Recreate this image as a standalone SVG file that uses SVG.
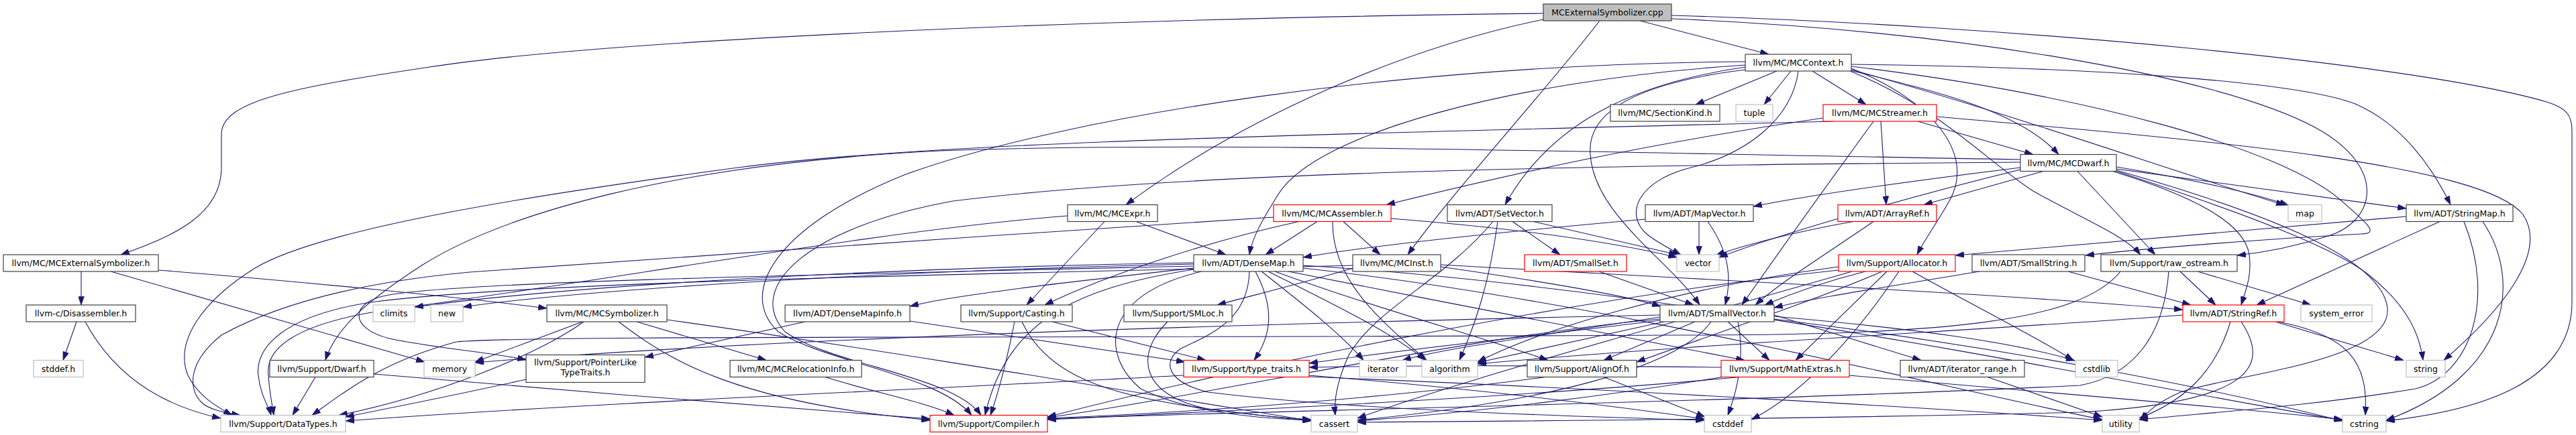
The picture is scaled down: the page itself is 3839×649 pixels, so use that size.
<svg xmlns="http://www.w3.org/2000/svg" width="3839" height="649" viewBox="0 0 3839 649">
<style>
.n rect{fill:#fff;stroke:#404040;stroke-width:1.2}
.r rect{fill:#fff;stroke:#ff0000;stroke-width:1.2}
.g rect{fill:#fff;stroke:#bfbfbf;stroke-width:1.2}
.c rect{fill:#bfbfbf;stroke:#404040;stroke-width:1.2}
text{font-family:"DejaVu Sans",sans-serif;font-size:12.5px;text-anchor:middle;fill:#000}
#edges path{fill:none;stroke:#191970;stroke-width:1.1;marker-end:url(#a)}
</style>
<defs>
<marker id="a" viewBox="0 0 10 7" refX="10" refY="3.5" markerWidth="13" markerHeight="9" markerUnits="userSpaceOnUse" orient="auto"><path d="M0,0 L10,3.5 L0,7 z" fill="#191970" stroke="#191970" stroke-width="0.5"/></marker>
</defs>
<rect width="3839" height="649" fill="#fff"/>
<g id="edges">
<path d="M2300,20 C1600,28 900,60 640,100 C440,130 330,150 330,200 L330,250 C330,320 260,352 180,380"/>
<path d="M2444,31 L2636,81"/>
<path d="M2300,29 C2100,70 1860,170 1678,305.5"/>
<path d="M2384,31 C2300,140 2170,280 2098,380"/>
<path d="M2491,28 C2900,45 3300,110 3450,190 C3560,250 3540,330 3470,352 C3420,368 3380,376 3334,381"/>
<path d="M2491,23 C3000,38 3600,95 3795,152 C3828,162 3833,175 3833,195 L3833,450 C3833,570 3700,612 3556,628"/>
<path d="M2648,106 L2527,156"/>
<path d="M2669,106 L2629,156"/>
<path d="M2701,106 L2781,156"/>
<path d="M2757,105 C2880,135 3010,165 3068,230.5"/>
<path d="M2601,97 C2250,120 1960,200 1905,290 C1880,330 1866,355 1862,380"/>
<path d="M2601,100 C2430,125 2310,185 2243,305.5"/>
<path d="M2601,104 C2430,125 2365,170 2370,230 C2375,320 2490,390 2533,455"/>
<path d="M2759,102 C2880,150 2945,230 2905,300 C2885,335 2868,358 2857,380"/>
<path d="M2759,99 C3100,140 3400,220 3490,300 C3530,335 3545,348 3520,349 C3400,355 3200,370 3108,381"/>
<path d="M2759,96 C3100,100 3420,120 3510,155 C3580,185 3625,250 3652,305.5"/>
<path d="M2759,104 C3000,170 3250,260 3405,306"/>
<path d="M2757,106 C2890,160 2960,240 3030,285 C3100,325 3165,350 3190,380"/>
<path d="M2680,106 C2670,180 2600,230 2520,250 C2440,270 2420,320 2455,350 C2475,365 2490,372 2505,380"/>
<path d="M2601,92 C2100,95 1600,170 1350,260 C1150,340 1100,440 1160,495 C1230,540 1400,560 1448,619.5"/>
<path d="M2858,181 L3030,230.5"/>
<path d="M2803,181 L2811,305.5"/>
<path d="M2717,176 C2450,215 2250,260 2066,305.5"/>
<path d="M2792,181 C2720,280 2645,385 2596,455"/>
<path d="M2733,181 C2000,200 1400,210 1100,250 C800,290 480,340 380,400 C300,450 260,510 280,560 C295,590 320,605 346,619.5"/>
<path d="M2886,174 C3300,210 3700,245 3760,320 C3800,380 3720,470 3642,537.5"/>
<path d="M3045,255.5 L2867,305.5"/>
<path d="M3096,255.5 L3212,380"/>
<path d="M3011,250 C2850,270 2700,290 2613,308"/>
<path d="M3011,238 C2400,228 1800,210 1400,225 C1000,245 750,320 630,395 C545,450 500,490 485,537.5"/>
<path d="M3154,252 L3586,311"/>
<path d="M3154,249 C3250,265 3350,285 3410,306"/>
<path d="M3150,256 C3260,290 3345,330 3352,380 C3356,410 3348,430 3340,455"/>
<path d="M3011,253 C2840,295 2650,350 2562,384"/>
<path d="M3154,255.5 C3350,320 3480,370 3530,410 C3580,450 3605,490 3611,537.5"/>
<path d="M3154,254 C3350,310 3550,380 3558,460 C3565,540 3320,560 3250,585 C3215,600 3200,615 3190,627"/>
<path d="M3011,242 C2500,246 1800,252 1420,300 C1200,340 1110,430 1170,495 C1240,545 1420,560 1462,619.5"/>
<path d="M1693,330.5 L1827,380"/>
<path d="M1646,330.5 L1530,455"/>
<path d="M1591,322 C1300,345 900,420 560,465 C440,485 395,520 400,560 C402,590 406,605 408,619.5"/>
<path d="M1963,330.5 L1886,380"/>
<path d="M1936,330.5 C1800,360 1650,410 1557,455"/>
<path d="M2002,330.5 L2057,380"/>
<path d="M1986,330.5 C1985,420 2060,480 2126,537.5"/>
<path d="M2073,326 C2250,340 2400,360 2499,384"/>
<path d="M1898,324 C1500,350 900,390 700,406 C550,420 420,450 330,500 C280,540 280,580 300,600 C310,610 330,615 358,619.5"/>
<path d="M2254,330.5 L2325,380"/>
<path d="M2232,330.5 C2220,420 2200,480 2175,537.5"/>
<path d="M2225,330.5 C2150,420 2050,460 2010,530 C1992,570 1988,600 1990,619.5"/>
<path d="M2285,330.5 L2500,380"/>
<path d="M2532,330.5 L2532,380"/>
<path d="M2545,330.5 C2580,380 2580,420 2571,455"/>
<path d="M2452,327 C2250,345 2050,365 1942,384"/>
<path d="M2792,330.5 C2720,380 2655,420 2616,455"/>
<path d="M2762,330.5 C2680,345 2600,365 2557,381"/>
<path d="M2383,405 L2524,455"/>
<path d="M2780,405 C2720,420 2665,440 2630,455"/>
<path d="M2812,405 L2676,537.5"/>
<path d="M2805,405 C2700,450 2550,500 2439,540"/>
<path d="M2740,398 C2500,430 2300,490 2202,540"/>
<path d="M2760,405 C2500,480 2200,560 2023,624"/>
<path d="M2830,405 C2780,480 2700,580 2610,626"/>
<path d="M2850,405 C2930,450 3030,500 3090,537.5"/>
<path d="M2740,403 C2300,450 1800,560 1561,622"/>
<path d="M2950,405 C2800,430 2700,445 2644,459"/>
<path d="M3082,405 L3265,455"/>
<path d="M3249,405 L3302,455"/>
<path d="M3275,405 L3444,455"/>
<path d="M3232,405 C3225,500 3180,560 3100,575 C2600,600 1800,615 1561,625"/>
<path d="M3160,405 C3100,480 2900,500 2500,500 C1500,505 800,500 680,510 C570,540 520,580 465,619.5"/>
<path d="M3636,330.5 L3363,455"/>
<path d="M3586,323 L2914,381"/>
<path d="M3700,330.5 C3760,420 3740,560 3556,627"/>
<path d="M3672,330.5 C3720,450 3680,560 3600,580 C3450,605 3300,615 3188,626"/>
<path d="M3391,480 L3582,537.5"/>
<path d="M3395,480 C3500,500 3530,540 3525,619.5"/>
<path d="M3324,480 C3300,560 3250,600 3188,624"/>
<path d="M3340,480 C3380,540 3370,600 3100,615 C2700,625 2300,628 2023,630"/>
<path d="M3253,470 C3000,490 2500,515 2202,543"/>
<path d="M2526,480 L2390,537.5"/>
<path d="M2575,480 L2637,537.5"/>
<path d="M2474,478 C2300,500 2100,520 1951,542"/>
<path d="M2480,480 L2202,541"/>
<path d="M2474,473 C2300,500 2150,520 2090,537.5"/>
<path d="M2550,480 C2500,550 2300,600 2023,627"/>
<path d="M2590,480 C2600,530 2590,580 2575,619.5"/>
<path d="M2644,472 C2850,490 3000,510 3092,538"/>
<path d="M2644,476 C3000,520 3300,580 3491,628"/>
<path d="M2474,470 C2000,480 1200,500 708,541"/>
<path d="M2474,476 C2200,500 1800,590 1561,623"/>
<path d="M2644,470 L2863,537.5"/>
<path d="M2303,562.5 C2100,590 1800,615 1561,624"/>
<path d="M2390,562.5 L2541,622"/>
<path d="M2593,562.5 C2300,590 1900,610 1561,626"/>
<path d="M2570,562 C2400,590 2200,615 2023,628"/>
<path d="M2756,560 C3100,590 3350,610 3491,626"/>
<path d="M2565,548 C2300,545 2100,545 1951,548"/>
<path d="M1764,560 C1400,580 900,600 515,628"/>
<path d="M1951,562 C2400,580 2900,610 3133,627"/>
<path d="M1951,560 C2200,580 2400,605 2540,625"/>
<path d="M1512,480 C1500,540 1490,580 1476,619.5"/>
<path d="M1568,480 L1797,537.5"/>
<path d="M1523,480 C1560,560 1650,590 1800,610 C1880,620 1920,625 1954,628"/>
<path d="M1740,480 C1690,530 1700,590 1800,610 C1870,620 1920,624 1954,626"/>
<path d="M1200,480 L961,533"/>
<path d="M1356,479 L1766,540"/>
<path d="M868,480 L708,540"/>
<path d="M870,480 C800,530 650,590 505,619.5"/>
<path d="M922,480 C1000,540 1100,600 1386,627"/>
<path d="M949,480 L1142,537.5"/>
<path d="M994,477 C1300,520 1600,570 1954,628"/>
<path d="M1230,562.5 C1300,585 1380,600 1422,619.5"/>
<path d="M470,562.5 L436,619.5"/>
<path d="M557,558 C800,580 1200,610 1386,625"/>
<path d="M114,480 L94,537.5"/>
<path d="M127,480 C170,560 240,605 329,624"/>
<path d="M121,405 L121,455"/>
<path d="M236,403 C450,420 700,445 815,460"/>
<path d="M165,405 L633,540"/>
<path d="M784,566 C700,585 600,605 515,622"/>
<path d="M1779,400 C1600,420 1420,440 1356,457"/>
<path d="M1779,392 C1400,398 900,420 618,458"/>
<path d="M1779,394 C1400,402 900,428 690,458"/>
<path d="M1779,397 C1200,410 700,420 580,440 C520,450 520,490 580,505 C650,520 730,525 784,537"/>
<path d="M1779,402 C1600,430 1500,480 1468,619.5"/>
<path d="M1871,405 C1900,460 1895,500 1869,537.5"/>
<path d="M1791,405 C1640,440 1640,530 1700,580 C1780,620 1900,625 1954,627"/>
<path d="M1862,405 C1860,480 1800,500 1760,520 C1730,540 1740,570 1800,585 C2000,610 2300,620 2540,627"/>
<path d="M1880,405 C1950,460 2000,500 2032,537.5"/>
<path d="M1890,405 C2000,460 2080,500 2124,537.5"/>
<path d="M1900,405 C2050,460 2200,500 2307,537.5"/>
<path d="M1920,405 C2150,450 2400,500 2600,537.5"/>
<path d="M1942,400 C2400,450 2900,580 3133,626"/>
<path d="M1942,396 C2500,430 3100,560 3491,627"/>
<path d="M2016,400 C1950,420 1870,440 1814,455"/>
<path d="M2147,398 C2300,420 2420,440 2475,457"/>
<path d="M2147,395 C2600,420 3000,440 3253,462"/>
<path d="M2016,396 C1400,410 800,420 560,450 C420,470 380,520 385,560 C388,590 400,605 404,619.5"/>
<path d="M2962,562.5 L3133,622"/>
</g>
<g id="n_cpp" class="c"><rect x="2300" y="6" width="191" height="25"/><text x="2395.5" y="23">MCExternalSymbolizer.cpp</text></g>
<g id="n_MCContext" class="n"><rect x="2601" y="81" width="158" height="25"/><text x="2680" y="98">llvm/MC/MCContext.h</text></g>
<g id="n_SectionKind" class="n"><rect x="2400" y="156" width="163" height="25"/><text x="2481.5" y="173">llvm/MC/SectionKind.h</text></g>
<g id="n_tuple" class="g"><rect x="2587" y="156" width="55" height="25"/><text x="2614.5" y="173">tuple</text></g>
<g id="n_MCStreamer" class="r"><rect x="2717" y="156" width="169" height="25"/><text x="2801.5" y="173">llvm/MC/MCStreamer.h</text></g>
<g id="n_MCDwarf" class="n"><rect x="3011" y="230.5" width="143" height="25"/><text x="3082.5" y="247.5">llvm/MC/MCDwarf.h</text></g>
<g id="n_MCExpr" class="n"><rect x="1591" y="305.5" width="134" height="25"/><text x="1658" y="322.5">llvm/MC/MCExpr.h</text></g>
<g id="n_MCAssembler" class="r"><rect x="1898" y="305.5" width="175" height="25"/><text x="1985.5" y="322.5">llvm/MC/MCAssembler.h</text></g>
<g id="n_SetVector" class="n"><rect x="2157" y="305.5" width="156" height="25"/><text x="2235" y="322.5">llvm/ADT/SetVector.h</text></g>
<g id="n_MapVector" class="n"><rect x="2452" y="305.5" width="161" height="25"/><text x="2532.5" y="322.5">llvm/ADT/MapVector.h</text></g>
<g id="n_ArrayRef" class="r"><rect x="2739" y="305.5" width="147" height="25"/><text x="2812.5" y="322.5">llvm/ADT/ArrayRef.h</text></g>
<g id="n_map" class="g"><rect x="3410" y="305.5" width="50" height="25"/><text x="3435" y="322.5">map</text></g>
<g id="n_StringMap" class="n"><rect x="3586" y="305.5" width="159" height="25"/><text x="3665.5" y="322.5">llvm/ADT/StringMap.h</text></g>
<g id="n_MCExtSymH" class="n"><rect x="5" y="380" width="231" height="25"/><text x="120.5" y="397">llvm/MC/MCExternalSymbolizer.h</text></g>
<g id="n_DenseMap" class="n"><rect x="1779" y="380" width="163" height="25"/><text x="1860.5" y="397">llvm/ADT/DenseMap.h</text></g>
<g id="n_MCInst" class="n"><rect x="2016" y="380" width="131" height="25"/><text x="2081.5" y="397">llvm/MC/MCInst.h</text></g>
<g id="n_SmallSet" class="r"><rect x="2272" y="380" width="152" height="25"/><text x="2348" y="397">llvm/ADT/SmallSet.h</text></g>
<g id="n_vector" class="g"><rect x="2499" y="380" width="63" height="25"/><text x="2530.5" y="397">vector</text></g>
<g id="n_Allocator" class="r"><rect x="2740" y="380" width="174" height="25"/><text x="2827" y="397">llvm/Support/Allocator.h</text></g>
<g id="n_SmallString" class="n"><rect x="2939" y="380" width="168" height="25"/><text x="3023" y="397">llvm/ADT/SmallString.h</text></g>
<g id="n_raw_ostream" class="n"><rect x="3131" y="380" width="203" height="25"/><text x="3232.5" y="397">llvm/Support/raw_ostream.h</text></g>
<g id="n_Disassembler" class="n"><rect x="39" y="455" width="163" height="25"/><text x="120.5" y="472">llvm-c/Disassembler.h</text></g>
<g id="n_climits" class="g"><rect x="556" y="455" width="62" height="25"/><text x="587" y="472">climits</text></g>
<g id="n_new" class="g"><rect x="642" y="455" width="48" height="25"/><text x="666" y="472">new</text></g>
<g id="n_MCSymbolizer" class="n"><rect x="815" y="455" width="179" height="25"/><text x="904.5" y="472">llvm/MC/MCSymbolizer.h</text></g>
<g id="n_DenseMapInfo" class="n"><rect x="1170" y="455" width="186" height="25"/><text x="1263" y="472">llvm/ADT/DenseMapInfo.h</text></g>
<g id="n_Casting" class="n"><rect x="1432" y="455" width="166" height="25"/><text x="1515" y="472">llvm/Support/Casting.h</text></g>
<g id="n_SMLoc" class="n"><rect x="1675" y="455" width="161" height="25"/><text x="1755.5" y="472">llvm/Support/SMLoc.h</text></g>
<g id="n_SmallVector" class="n"><rect x="2474" y="455" width="170" height="25"/><text x="2559" y="472">llvm/ADT/SmallVector.h</text></g>
<g id="n_StringRef" class="r"><rect x="3253" y="455" width="151" height="25"/><text x="3328.5" y="472">llvm/ADT/StringRef.h</text></g>
<g id="n_system_error" class="g"><rect x="3429" y="455" width="106" height="25"/><text x="3482" y="472">system_error</text></g>
<g id="n_stddef" class="g"><rect x="50" y="537.5" width="74" height="25"/><text x="87" y="554.5">stddef.h</text></g>
<g id="n_Dwarf" class="n"><rect x="402" y="537.5" width="155" height="25"/><text x="479.5" y="554.5">llvm/Support/Dwarf.h</text></g>
<g id="n_memory" class="g"><rect x="632" y="537.5" width="76" height="25"/><text x="670" y="554.5">memory</text></g>
<g id="n_PointerLike" class="n"><rect x="784" y="529.5" width="177" height="41"/><text x="872.5" y="544.5">llvm/Support/PointerLike</text><text x="872.5" y="559.5">TypeTraits.h</text></g>
<g id="n_MCRelocationInfo" class="n"><rect x="1088" y="537.5" width="196" height="25"/><text x="1186" y="554.5">llvm/MC/MCRelocationInfo.h</text></g>
<g id="n_type_traits" class="r"><rect x="1764" y="537.5" width="187" height="25"/><text x="1857.5" y="554.5">llvm/Support/type_traits.h</text></g>
<g id="n_iterator" class="g"><rect x="2026" y="537.5" width="70" height="25"/><text x="2061" y="554.5">iterator</text></g>
<g id="n_algorithm" class="g"><rect x="2119" y="537.5" width="83" height="25"/><text x="2160.5" y="554.5">algorithm</text></g>
<g id="n_AlignOf" class="n"><rect x="2276" y="537.5" width="163" height="25"/><text x="2357.5" y="554.5">llvm/Support/AlignOf.h</text></g>
<g id="n_MathExtras" class="r"><rect x="2565" y="537.5" width="191" height="25"/><text x="2660.5" y="554.5">llvm/Support/MathExtras.h</text></g>
<g id="n_iterator_range" class="n"><rect x="2832" y="537.5" width="185" height="25"/><text x="2924.5" y="554.5">llvm/ADT/iterator_range.h</text></g>
<g id="n_cstdlib" class="g"><rect x="3093" y="537.5" width="63" height="25"/><text x="3124.5" y="554.5">cstdlib</text></g>
<g id="n_string" class="g"><rect x="3586" y="537.5" width="58" height="25"/><text x="3615" y="554.5">string</text></g>
<g id="n_DataTypes" class="g"><rect x="329" y="619.5" width="186" height="25"/><text x="422" y="636.5">llvm/Support/DataTypes.h</text></g>
<g id="n_Compiler" class="r"><rect x="1386" y="619.5" width="175" height="25"/><text x="1473.5" y="636.5">llvm/Support/Compiler.h</text></g>
<g id="n_cassert" class="g"><rect x="1954" y="619.5" width="69" height="25"/><text x="1988.5" y="636.5">cassert</text></g>
<g id="n_cstddef" class="g"><rect x="2540" y="619.5" width="70" height="25"/><text x="2575" y="636.5">cstddef</text></g>
<g id="n_utility" class="g"><rect x="3133" y="619.5" width="55" height="25"/><text x="3160.5" y="636.5">utility</text></g>
<g id="n_cstring" class="g"><rect x="3491" y="619.5" width="65" height="25"/><text x="3523.5" y="636.5">cstring</text></g>
</svg>
